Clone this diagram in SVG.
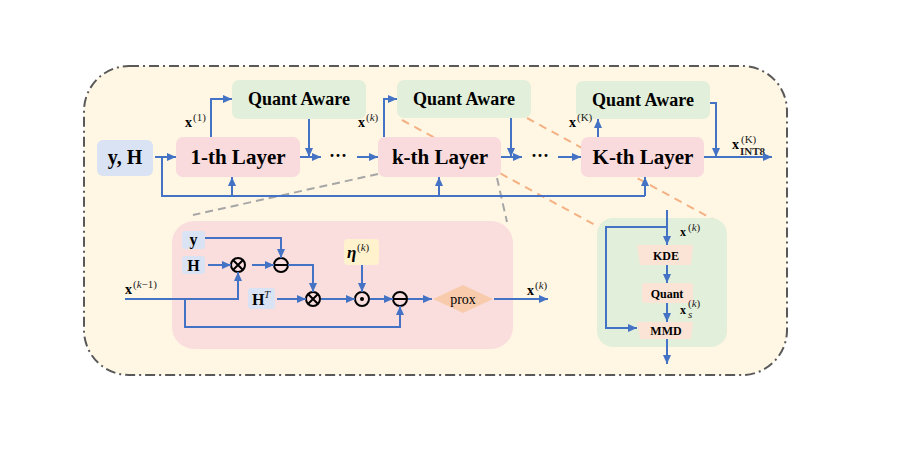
<svg xmlns="http://www.w3.org/2000/svg" width="908" height="461" viewBox="0 0 908 461">
<defs>
<marker id="ah" markerUnits="userSpaceOnUse" markerWidth="9" markerHeight="8" refX="9" refY="4" orient="auto">
<path d="M0,0 L9,4 L0,8 z" fill="#4472C4"/>
</marker>
<style>
.conn{fill:none;stroke:#4472C4;stroke-width:2;}
.arr{marker-end:url(#ah);}
.blue{fill:#DAE3F3;}
.pink{fill:#F9DADD;}
.green{fill:#E2EFDA;}
.peach{fill:#FBE3D5;}
.t{font-family:"Liberation Serif","DejaVu Serif",serif;font-weight:bold;fill:#000;text-anchor:middle;}
.lab{font-family:"Liberation Serif","DejaVu Serif",serif;font-weight:bold;fill:#000;}
.sup{font-family:"Liberation Serif","DejaVu Serif",serif;fill:#222;font-size:11px;}
.plain{font-family:"Liberation Serif","DejaVu Serif",serif;fill:#000;text-anchor:middle;}
.op{fill:none;stroke:#000;stroke-width:2;}
.gd{fill:none;stroke:#A6A6A6;stroke-width:2;stroke-dasharray:8,5;}
.od{fill:none;stroke:#F4B183;stroke-width:2;stroke-dasharray:8,6;}
</style>
</defs>
<rect width="908" height="461" fill="#fff"/>
<rect id="outer" x="84" y="66" width="703" height="309" rx="45" ry="45" fill="#FFF7E4" stroke="#595959" stroke-width="2" stroke-dasharray="10,4,2,4"/>

<g id="guides">
<line class="od" x1="402" y1="120" x2="597" y2="226"/>
<line class="od" x1="527" y1="118" x2="718" y2="222"/>
<line class="gd" x1="378" y1="174" x2="193" y2="215"/>
<line class="gd" x1="497" y1="178" x2="507" y2="222"/>
</g>

<g id="yH"><rect class="blue" x="97" y="140" width="56" height="36" rx="6"/><text class="t" x="125" y="164" font-size="20">y, H</text></g>
<g id="layer1"><rect class="pink" x="176" y="137" width="124" height="40" rx="7"/><text class="t" x="238" y="164" font-size="21">1-th Layer</text></g>
<g id="qa1"><rect class="green" x="232" y="80" width="134" height="39" rx="7"/><text class="t" x="299" y="105" font-size="18">Quant Aware</text></g>
<g id="layerk"><rect class="pink" x="378" y="137" width="123" height="40" rx="7"/><text class="t" x="440" y="164" font-size="21">k-th Layer</text></g>
<g id="qa2"><rect class="green" x="397" y="80" width="134" height="38" rx="7"/><text class="t" x="464" y="105" font-size="18">Quant Aware</text></g>
<g id="layerK"><rect class="pink" x="581" y="137" width="123" height="40" rx="7"/><text class="t" x="643" y="164" font-size="21">K-th Layer</text></g>
<g id="qa3"><rect class="green" x="576" y="81" width="134" height="38" rx="7"/><text class="t" x="643" y="106" font-size="18">Quant Aware</text></g>
<g id="dots1"><text class="t" x="338" y="162" font-size="18">···</text></g>
<g id="dots2"><text class="t" x="540" y="162" font-size="18">···</text></g>

<g id="detail">
<rect x="172" y="221" width="341" height="128" rx="22" fill="#FADEDE"/>
</g>
<g id="ybox"><rect class="blue" x="182" y="231" width="23" height="18" rx="3"/><text class="t" x="193.5" y="245" font-size="16">y</text></g>
<g id="Hbox"><rect class="blue" x="182" y="256" width="23" height="18" rx="3"/><text class="t" x="193.5" y="271" font-size="16">H</text></g>
<g id="HTbox"><rect class="blue" x="248" y="288" width="27" height="21" rx="3"/><text class="lab" x="252" y="305" font-size="16">H</text><text class="sup" x="264" y="298" font-style="italic">T</text></g>
<g id="etabox"><rect x="344" y="239" width="35" height="26" rx="4" fill="#FFF2CC"/><text class="lab" x="347" y="258" font-size="17" font-style="italic">η</text><text class="sup" x="357" y="251">(<tspan font-style="italic">k</tspan>)</text></g>
<g id="mul1"><circle class="op" cx="238" cy="265" r="7"/><path class="op" d="M233,260 L243,270 M243,260 L233,270"/></g>
<g id="sub1"><circle class="op" cx="281" cy="265" r="7"/><path class="op" d="M274,265 H288"/></g>
<g id="mul2"><circle class="op" cx="313" cy="299" r="7"/><path class="op" d="M308,294 L318,304 M318,294 L308,304"/></g>
<g id="hadam"><circle class="op" cx="362" cy="299" r="7"/><circle cx="362" cy="299" r="2" fill="#000"/></g>
<g id="sub2"><circle class="op" cx="400" cy="299" r="7"/><path class="op" d="M393,299 H407"/></g>
<g id="prox"><polygon points="433,299 463,285 493,299 463,313" fill="#F8CBAD"/><text class="plain" x="463" y="303.5" font-size="14">prox</text></g>

<g id="qadetail"><rect class="green" x="597" y="218" width="130" height="129" rx="16"/></g>
<g id="kde"><polygon class="peach" points="637,245 693,245 691,265 640,265"/><text class="t" x="666" y="260" font-size="12">KDE</text></g>
<g id="quant"><rect class="peach" x="642" y="283" width="51" height="20" rx="3"/><text class="t" x="667" y="297.5" font-size="12">Quant</text></g>
<g id="mmd"><polygon class="peach" points="637,322 693,322 691,339 640,339"/><text class="t" x="666" y="335" font-size="12">MMD</text></g>

<g id="labels">
<text class="lab" x="185" y="127" font-size="14">x</text><text class="sup" x="193" y="121">(1)</text>
<text class="lab" x="358" y="127" font-size="14">x</text><text class="sup" x="366" y="121">(<tspan font-style="italic">k</tspan>)</text>
<text class="lab" x="569" y="127" font-size="14">x</text><text class="sup" x="577" y="121">(K)</text>
<text class="lab" x="732" y="149" font-size="14">x</text><text class="sup" x="741" y="143">(K)</text><text class="sup" x="740" y="155" font-size="9" font-weight="bold">INT8</text>
<text class="lab" x="125" y="294" font-size="14">x</text><text class="sup" x="133" y="288">(<tspan font-style="italic">k</tspan>−1)</text>
<text class="lab" x="527" y="295" font-size="14">x</text><text class="sup" x="535" y="289">(<tspan font-style="italic">k</tspan>)</text>
<text class="lab" x="680" y="236" font-size="12">x</text><text class="sup" x="688" y="231" font-size="9">(<tspan font-style="italic">k</tspan>)</text>
<text class="lab" x="680" y="314" font-size="12">x</text><text class="sup" x="688" y="307" font-size="9">(<tspan font-style="italic">k</tspan>)</text><text class="sup" x="688" y="318" font-size="8" font-style="italic">s</text>
</g>

<g id="connectors">
<path class="conn arr" d="M155,157 H176"/>
<path class="conn" d="M162,157 V196 H645"/>
<path class="conn arr" d="M645,196 V177"/>
<path class="conn arr" d="M232,196 V177"/>
<path class="conn arr" d="M439,196 V177"/>
<path class="conn arr" d="M211,137 V99 H232"/>
<path class="conn arr" d="M300,157 H321"/>
<path class="conn arr" d="M309,119 V157"/>
<path class="conn arr" d="M357,157 H378"/>
<path class="conn arr" d="M384,137 V99 H397"/>
<path class="conn arr" d="M501,157 H522"/>
<path class="conn arr" d="M511,118 V157"/>
<path class="conn arr" d="M558,157 H581"/>
<path class="conn arr" d="M598,137 V119"/>
<path class="conn arr" d="M710,103 H716 V157"/>
<path class="conn arr" d="M704,157 H772"/>
<path class="conn arr" d="M208,265 H231"/>
<path class="conn arr" d="M252,265 H274"/>
<path class="conn arr" d="M205,238 H281 V258"/>
<path class="conn arr" d="M288,265 H313 V292"/>
<path class="conn arr" d="M277,299 H306"/>
<path class="conn arr" d="M125,299 H238 V272"/>
<path class="conn arr" d="M185,299 V327 H400 V306"/>
<path class="conn arr" d="M321,299 H355"/>
<path class="conn arr" d="M362,265 V292"/>
<path class="conn arr" d="M370,299 H393"/>
<path class="conn arr" d="M408,299 H432"/>
<path class="conn arr" d="M494,299 H548"/>
<path class="conn arr" d="M667,210 V245"/>
<path class="conn arr" d="M667,227 H606 V328 H637"/>
<path class="conn arr" d="M667,265 V283"/>
<path class="conn arr" d="M667,303 V322"/>
<path class="conn arr" d="M667,339 V364"/>
</g>
</svg>
